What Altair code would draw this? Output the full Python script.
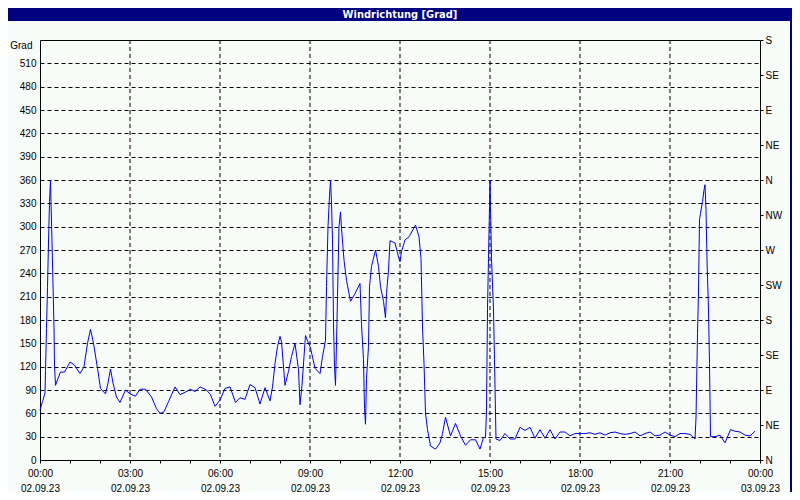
import altair as alt
import pandas as pd

TITLE = "Windrichtung [Grad]"
Y_TITLE = "Grad"

# minutes after 02.09.23 00:00
minutes = [0, 5, 10, 11, 13, 15, 17, 19, 21, 22, 24, 26, 28, 29, 31, 36, 41, 49, 60, 69,
           80, 88, 95, 101, 107, 115, 121, 131, 136, 141, 146, 153, 160, 171, 180, 191, 200, 211, 223, 233,
           240, 248, 257, 270, 280, 290, 301, 310, 320, 333, 341, 350, 360, 370, 380, 391, 400, 410, 420, 430,
           440, 450, 460, 465, 470, 475, 480, 483, 490, 497, 503, 510, 517, 520, 524, 528, 531, 537, 541, 550,
           560, 565, 571, 573, 576, 579, 581, 583, 585, 587, 589, 591, 593, 595, 598, 601, 603, 608, 613, 621,
           630, 640, 643, 647, 649, 651, 653, 657, 659, 663, 671, 677, 681, 687, 691, 693, 697, 700, 710, 717,
           720, 723, 730, 738, 751, 758, 762, 765, 768, 771, 775, 781, 791, 800, 805, 811, 821, 831, 841, 851,
           861, 871, 880, 887, 891, 893, 895, 897, 899, 900, 901, 903, 907, 909, 911, 912, 920, 930, 940, 950,
           960, 970, 980, 990, 1000, 1010, 1020, 1030, 1040, 1050, 1060, 1070, 1080, 1090, 1100, 1110, 1120, 1130, 1140, 1150,
           1160, 1170, 1180, 1190, 1200, 1210, 1220, 1230, 1240, 1250, 1260, 1270, 1280, 1290, 1300, 1310, 1312, 1315, 1317, 1319,
           1321, 1325, 1328, 1330, 1332, 1334, 1337, 1339, 1341, 1350, 1360, 1370, 1381, 1390, 1400, 1410, 1420, 1430]
degrees = [64, 75, 86, 115, 169, 222, 279, 332, 360, 332, 281, 225, 170, 122, 96, 105, 113, 113, 126, 122,
           111, 120, 150, 168, 150, 118, 92, 85, 99, 117, 99, 81, 74, 90, 85, 82, 91, 91, 81, 66,
           60, 62, 75, 94, 84, 87, 91, 88, 94, 90, 84, 69, 77, 92, 94, 74, 80, 78, 97, 93,
           72, 93, 76, 94, 124, 146, 159, 152, 96, 114, 133, 150, 116, 71, 96, 133, 160, 150, 144, 118,
           111, 133, 154, 223, 300, 339, 360, 330, 283, 176, 120, 96, 150, 210, 300, 319, 298, 257, 231, 204,
           214, 227, 174, 129, 66, 46, 105, 146, 223, 249, 270, 249, 223, 204, 183, 214, 244, 282, 279, 261,
           255, 268, 283, 287, 302, 287, 259, 171, 124, 60, 39, 18, 14, 22, 34, 55, 31, 47, 31, 19,
           26, 26, 14, 29, 29, 64, 195, 259, 326, 360, 326, 259, 193, 129, 60, 27, 25, 34, 27, 27,
           42, 38, 42, 28, 39, 28, 39, 27, 36, 36, 31, 34, 34, 34, 35, 33, 35, 32, 35, 36,
           34, 33, 34, 36, 31, 34, 36, 31, 32, 36, 32, 30, 34, 34, 33, 27, 54, 163, 216, 309,
           317, 332, 347, 354, 321, 257, 193, 124, 30, 30, 32, 22, 39, 37, 36, 32, 31, 37]

left_ticks = list(range(0, 511, 30))
compass_ticks = list(range(0, 541, 45))
compass_names = ["N", "NE", "E", "SE", "S", "SW", "W", "NW", "N", "NE", "E", "SE", "S"]
hour_ticks = list(range(0, 25))
grid_hours = [3, 6, 9, 12, 15, 18, 21]
dates = ["02.09.23", "03.09.23"]

df = pd.DataFrame({"hour": [m / 60 for m in minutes], "deg": degrees})
grid_df = pd.DataFrame({"hour": grid_hours})
one = alt.Data(values=[{"a": 1}])

FONT = "Liberation Sans"
NAVY = "#000080"

xscale = alt.Scale(domain=[0, 24], nice=False, zero=False)
yscale = alt.Scale(domain=[0, 540], nice=False, zero=False)

names_js = "[" + ",".join("'" + n + "'" for n in compass_names) + "]"
x_label_expr = (
    "datum.value % 3 == 0 ? [ (datum.value % 24 < 10 ? '0' : '') + (datum.value % 24) + ':00', "
    "datum.value < 24 ? '" + dates[0] + "' : '" + dates[1] + "'] : ''"
)


def make_xaxis():
    return alt.Axis(values=hour_ticks, title=None, grid=False, domain=False, tickSize=3,
                    tickColor="black", labelExpr=x_label_expr, labelFlush=False,
                    labelPadding=5, labelLineHeight=15, labelFont=FONT, labelFontSize=10,
                    labelColor="black", labelBaseline="top", labelOverlap=False)


vgrid = alt.Chart(grid_df).mark_rule(color="black", strokeDash=[4, 3], strokeWidth=1).encode(
    x=alt.X("hour:Q", scale=xscale, axis=make_xaxis())
)

line = alt.Chart(df).mark_line(color="#0000ff", strokeWidth=1, interpolate="linear").encode(
    x=alt.X("hour:Q", scale=xscale, axis=make_xaxis()),
    y=alt.Y("deg:Q", scale=yscale,
            axis=alt.Axis(values=left_ticks, orient="left", grid=True, gridColor="black",
                          gridDash=[4, 3], gridOpacity=1, gridWidth=1, domain=False,
                          tickSize=0, labelPadding=4, labelFont=FONT, labelFontSize=10,
                          labelColor="black", title=Y_TITLE, titleAngle=0, titleAlign="right",
                          titleBaseline="middle", titleX=-8, titleY=5, titleFont=FONT,
                          titleFontSize=10, titleFontWeight="normal", titleColor="black")),
)

right = alt.Chart(df).mark_line(opacity=0).encode(
    x=alt.X("hour:Q", scale=xscale, axis=make_xaxis()),
    y=alt.Y("deg:Q", scale=yscale,
            axis=alt.Axis(values=compass_ticks, orient="right", grid=False, domain=False,
                          tickSize=3, tickColor="black", labelPadding=2,
                          labelExpr=names_js + "[round(datum.value/45)]",
                          labelFont=FONT, labelFontSize=10, labelColor="black", title=None)),
)

titlebar = alt.Chart(one).mark_rect(color=NAVY).encode(
    x=alt.value(-40), x2=alt.value(760), y=alt.value(-40), y2=alt.value(-19)
)
rborder = alt.Chart(one).mark_rect(color=NAVY).encode(
    x=alt.value(750), x2=alt.value(752), y=alt.value(-40), y2=alt.value(460)
)
title_text = alt.Chart(one).mark_text(color="white", fontWeight="bold", fontSize=11,
                                      font="Liberation Sans Narrow, DejaVu Sans Condensed, Liberation Sans",
                                      align="center", baseline="middle").encode(
    x=alt.value(360), y=alt.value(-25), text=alt.value(TITLE)
)

chart = alt.layer(titlebar, rborder, vgrid, line, right, title_text).resolve_scale(
    y="independent"
).properties(
    width=720, height=420,
    autosize=alt.AutoSizeParams(type="none"),
    padding={"left": 32, "top": 32, "right": 32, "bottom": 32},
    background="#f8fcf8",
).configure_view(stroke="black", strokeWidth=1).configure_axis(labelOverlap=False)

chart.save("out.html", embed_options={"renderer": "svg", "actions": False})
